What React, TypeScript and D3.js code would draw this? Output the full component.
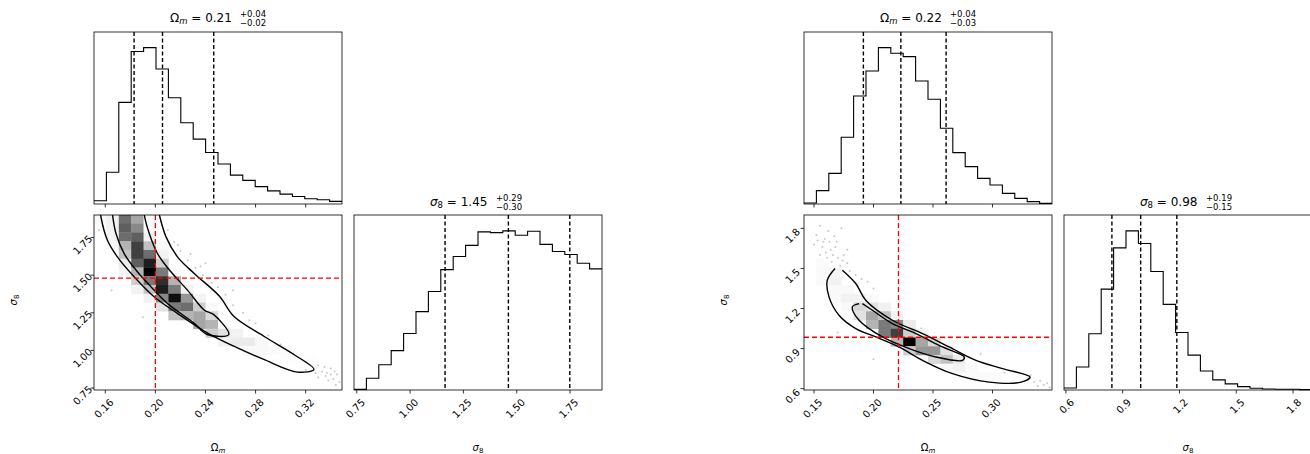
import * as d3 from "d3"

// ---- left corner plot ----
const omLeftDomain: [number, number] = [0.151, 0.349]
const s8LeftDomain: [number, number] = [0.737, 1.9]
const omLeftTicks = [0.16, 0.2, 0.24, 0.28, 0.32]
const s8LeftTicks = [0.75, 1.0, 1.25, 1.5, 1.75]
const omLeftHist = [10, 97, 310, 465, 477, 412, 324, 248, 198, 157, 122, 88, 72, 53, 40, 30, 23, 16, 13, 8]
const s8LeftHist = [2, 35, 75, 117, 168, 233, 293, 358, 397, 430, 470, 468, 473, 460, 472, 433, 412, 403, 377, 360]
const omLeftQuant = [0.183, 0.2057, 0.2466]
const s8LeftQuant = [1.164, 1.461, 1.749]
const leftTruth = [0.2, 1.48]
// [col, row, density]
const leftCells: [number, number, number][] = [
  [0, 19, 0.05], [1, 19, 0.1], [2, 19, 0.65], [3, 19, 0.45], [4, 19, 0.05],
  [1, 18, 0.1], [2, 18, 0.7], [3, 18, 0.55], [4, 18, 0.05],
  [1, 17, 0.1], [2, 17, 0.65], [3, 17, 0.7], [4, 17, 0.1],
  [1, 16, 0.05], [2, 16, 0.4], [3, 16, 0.8], [4, 16, 0.35], [5, 16, 0.05],
  [2, 15, 0.35], [3, 15, 0.8], [4, 15, 0.65], [5, 15, 0.1],
  [2, 14, 0.15], [3, 14, 0.7], [4, 14, 0.9], [5, 14, 0.3],
  [2, 13, 0.1], [3, 13, 0.4], [4, 13, 1.0], [5, 13, 0.6], [6, 13, 0.05],
  [3, 12, 0.3], [4, 12, 0.6], [5, 12, 0.85], [6, 12, 0.4],
  [3, 11, 0.1], [4, 11, 0.35], [5, 11, 0.9], [6, 11, 0.6], [7, 11, 0.1],
  [4, 10, 0.1], [5, 10, 0.55], [6, 10, 0.95], [7, 10, 0.5], [8, 10, 0.1],
  [5, 9, 0.2], [6, 9, 0.6], [7, 9, 0.65], [8, 9, 0.3], [9, 9, 0.05],
  [6, 8, 0.35], [7, 8, 0.4], [8, 8, 0.45], [9, 8, 0.25],
  [8, 7, 0.45], [9, 7, 0.4], [10, 7, 0.05],
  [9, 6, 0.3], [10, 6, 0.2], [11, 6, 0.1],
  [10, 5, 0.1], [11, 5, 0.15], [12, 5, 0.15], [13, 5, 0.05],
  [12, 4, 0.05], [13, 4, 0.05], [14, 4, 0.03], [15, 4, 0.03],
  [15, 3, 0.02], [16, 3, 0.02], [17, 3, 0.02],
]
const leftOuter: [number, number][] = [
  [0.156, 1.93], [0.1566, 1.885], [0.1618, 1.73], [0.1698, 1.62], [0.1832, 1.488], [0.1992, 1.355],
  [0.2178, 1.245], [0.2414, 1.117], [0.2626, 1.028], [0.2866, 0.94], [0.3134, 0.856], [0.3266, 0.874],
  [0.3106, 0.973], [0.2866, 1.094], [0.2626, 1.227], [0.2512, 1.36], [0.2312, 1.51],
  [0.2178, 1.62], [0.2086, 1.753], [0.2032, 1.9], [0.2025, 1.93],
]
const leftInner: [number, number][] = [
  [0.1655, 1.93], [0.1658, 1.9], [0.1686, 1.775], [0.1752, 1.642], [0.1858, 1.521], [0.1966, 1.422],
  [0.2098, 1.311], [0.2306, 1.183], [0.2414, 1.106], [0.2586, 1.106], [0.2466, 1.238], [0.2392, 1.267],
  [0.2258, 1.399], [0.2126, 1.521], [0.2018, 1.642], [0.1952, 1.775], [0.1912, 1.9], [0.191, 1.93],
]
const leftPoints: [number, number][] = [
  [0.153, 1.86], [0.155, 1.8], [0.152, 1.88], [0.158, 1.83], [0.215, 1.72], [0.22, 1.66], [0.226, 1.6],
  [0.232, 1.55], [0.238, 1.5], [0.245, 1.45], [0.25, 1.42], [0.256, 1.37], [0.262, 1.3], [0.27, 1.25],
  [0.28, 1.18], [0.29, 1.1], [0.3, 1.04], [0.31, 0.98], [0.318, 0.95], [0.325, 0.92], [0.33, 0.9],
  [0.333, 0.86], [0.336, 0.83], [0.34, 0.88], [0.342, 0.81], [0.345, 0.84], [0.347, 0.79], [0.338, 0.8],
  [0.33, 0.82], [0.344, 0.77], [0.335, 0.89], [0.328, 0.85], [0.32, 0.87], [0.21, 1.8], [0.24, 1.58],
  [0.262, 1.4], [0.275, 1.2], [0.3, 0.92], [0.31, 0.86], [0.165, 1.4], [0.19, 1.22], [0.2, 1.17],
  [0.218, 1.7], [0.228, 1.64], [0.236, 1.56], [0.248, 1.48], [0.34, 0.84], [0.343, 0.86], [0.337, 0.85],
]

// ---- right corner plot ----
const omRightDomain: [number, number] = [0.1416, 0.35]
const s8RightDomain: [number, number] = [0.59, 1.9]
const omRightTicks = [0.15, 0.2, 0.25, 0.3]
const s8RightTicks = [0.6, 0.9, 1.2, 1.5, 1.8]
const omRightHist = [3, 40, 92, 200, 324, 399, 469, 452, 442, 369, 314, 227, 154, 112, 77, 57, 32, 17, 7, 2]
const s8RightHist = [6, 68, 166, 298, 420, 470, 433, 350, 253, 170, 103, 56, 30, 18, 10, 5, 3, 2, 2, 1]
const omRightQuant = [0.1915, 0.223, 0.261]
const s8RightQuant = [0.843, 0.995, 1.186]
const rightTruth = [0.221, 0.985]
const rightCells: [number, number, number][] = [
  [1, 14, 0.03], [1, 13, 0.05], [2, 13, 0.08], [1, 12, 0.05], [2, 12, 0.1],
  [2, 11, 0.05], [3, 11, 0.05],
  [2, 10, 0.05], [3, 10, 0.1], [4, 10, 0.1], [5, 10, 0.03],
  [3, 9, 0.05], [4, 9, 0.25], [5, 9, 0.2], [6, 9, 0.1],
  [4, 8, 0.2], [5, 8, 0.45], [6, 8, 0.35], [7, 8, 0.1],
  [5, 7, 0.4], [6, 7, 0.6], [7, 7, 0.55], [8, 7, 0.15],
  [6, 6, 0.6], [7, 6, 0.8], [8, 6, 0.3], [9, 6, 0.1],
  [7, 5, 0.4], [8, 5, 1.0], [9, 5, 0.45], [10, 5, 0.25],
  [8, 4, 0.3], [9, 4, 0.5], [10, 4, 0.5], [11, 4, 0.2],
  [10, 3, 0.25], [11, 3, 0.35], [12, 3, 0.15],
  [11, 2, 0.05], [12, 2, 0.1], [13, 2, 0.05],
  [13, 1, 0.04], [14, 1, 0.04], [15, 1, 0.03],
]
const rightOuter: [number, number][] = [
  [0.1677, 1.5], [0.1612, 1.412], [0.1626, 1.287], [0.171, 1.15], [0.1851, 1.05], [0.2019, 0.987],
  [0.2215, 0.912], [0.2412, 0.812], [0.2664, 0.712], [0.2973, 0.649], [0.324, 0.649], [0.3316, 0.687],
  [0.3085, 0.75], [0.2861, 0.812], [0.2636, 0.912], [0.2412, 1.012], [0.2159, 1.112], [0.1935, 1.262],
  [0.1851, 1.387], [0.1738, 1.487],
]
const rightInner: [number, number][] = [
  [0.1879, 1.237], [0.1822, 1.212], [0.1879, 1.112], [0.2075, 0.987], [0.23, 0.9], [0.2524, 0.837],
  [0.2748, 0.812], [0.2763, 0.837], [0.258, 0.912], [0.2356, 1.012], [0.2159, 1.087], [0.1991, 1.187],
  [0.1907, 1.237],
]
const rightPoints: [number, number][] = [
  [0.152, 1.75], [0.155, 1.82], [0.158, 1.7], [0.16, 1.62], [0.162, 1.78], [0.165, 1.55], [0.168, 1.66],
  [0.17, 1.58], [0.155, 1.6], [0.157, 1.66], [0.163, 1.7], [0.172, 1.52], [0.175, 1.6], [0.178, 1.54],
  [0.18, 1.48], [0.185, 1.45], [0.19, 1.42], [0.195, 1.4], [0.2, 1.35], [0.15, 1.68], [0.16, 1.5],
  [0.167, 1.74], [0.173, 1.8], [0.178, 1.64], [0.24, 1.05], [0.26, 0.98], [0.29, 0.86],
  [0.33, 0.68], [0.335, 0.65], [0.34, 0.66], [0.343, 0.63], [0.346, 0.64], [0.338, 0.62], [0.348, 0.61],
  [0.332, 0.7], [0.31, 0.72], [0.2, 0.82], [0.17, 1.02], [0.159, 1.72], [0.164, 1.64], [0.169, 1.7],
  [0.161, 1.58], [0.174, 1.56], [0.153, 1.71], [0.166, 1.6],
]

const FONT = "DejaVu Sans, sans-serif"
const W = 1310
const H = 454
const RED = "#ff0000"

interface Fig {
  x0: number
  omDomain: [number, number]
  s8Domain: [number, number]
  omTicks: number[]
  s8Ticks: number[]
  omFmt: string
  s8Fmt: string
  omHist: number[]
  s8Hist: number[]
  omQuant: number[]
  s8Quant: number[]
  truth: number[]
  cells: [number, number, number][]
  outer: [number, number][]
  inner: [number, number][]
  points: [number, number][]
  omTitle: [string, string, string]
  s8Title: [string, string, string]
  id: string
}

const figs: Fig[] = [
  {
    x0: 94, omDomain: omLeftDomain, s8Domain: s8LeftDomain, omTicks: omLeftTicks, s8Ticks: s8LeftTicks,
    omFmt: ".2f", s8Fmt: ".2f", omHist: omLeftHist, s8Hist: s8LeftHist, omQuant: omLeftQuant,
    s8Quant: s8LeftQuant, truth: leftTruth, cells: leftCells, outer: leftOuter, inner: leftInner,
    points: leftPoints, omTitle: ["0.21", "+0.04", "−0.02"], s8Title: ["1.45", "+0.29", "−0.30"], id: "l",
  },
  {
    x0: 804, omDomain: omRightDomain, s8Domain: s8RightDomain, omTicks: omRightTicks, s8Ticks: s8RightTicks,
    omFmt: ".2f", s8Fmt: ".1f", omHist: omRightHist, s8Hist: s8RightHist, omQuant: omRightQuant,
    s8Quant: s8RightQuant, truth: rightTruth, cells: rightCells, outer: rightOuter, inner: rightInner,
    points: rightPoints, omTitle: ["0.22", "+0.04", "−0.03"], s8Title: ["0.98", "+0.19", "−0.15"], id: "r",
  },
]

const PW = 248
const TOP = [32, 204]
const BOT = [215, 390]

function histPath(vals: number[], dom: [number, number], x: d3.ScaleLinear<number, number>, y: d3.ScaleLinear<number, number>) {
  const step = (dom[1] - dom[0]) / vals.length
  const pts: [number, number][] = vals.map((v, i) => [dom[0] + i * step, v])
  pts.push([dom[1], vals[vals.length - 1]])
  return d3.line<[number, number]>().x((d) => x(d[0])).y((d) => y(d[1])).curve(d3.curveStepAfter)(pts) || ""
}

function Title({ cx, y, sym, t }: { cx: number; y: number; sym: "om" | "s8"; t: [string, string, string] }) {
  return (
    <g transform={`translate(${cx - 48},${y})`} fontFamily={FONT}>
      <text x={0} y={0} fontSize={12}>
        {sym === "om" ? (
          <>Ω<tspan fontSize={8.5} dy={2} fontStyle="italic">m</tspan><tspan dy={-2}> = {t[0]}</tspan></>
        ) : (
          <><tspan fontStyle="italic">σ</tspan><tspan fontSize={8.5} dy={2}>8</tspan><tspan dy={-2}> = {t[0]}</tspan></>
        )}
      </text>
      <text x={sym === "om" ? 70 : 66} y={-5} fontSize={8.5}>{t[1]}</text>
      <text x={sym === "om" ? 70 : 66} y={4} fontSize={8.5}>{t[2]}</text>
    </g>
  )
}

function XTicks({ ticks, x, y, fmt, labels }: { ticks: number[]; x: d3.ScaleLinear<number, number>; y: number; fmt: string; labels: boolean }) {
  const f = d3.format(fmt)
  return (
    <g>
      {ticks.map((t) => (
        <g key={t} transform={`translate(${x(t)},${y})`}>
          <line y2={3.5} stroke="#000" strokeWidth={0.8} />
          {labels && (
            <text transform="translate(4,8) rotate(-45)" textAnchor="end" dy="0.7em" fontSize={10} fontFamily={FONT}>
              {f(t)}
            </text>
          )}
        </g>
      ))}
    </g>
  )
}

function Corner({ f }: { f: Fig }) {
  const dx = f.x0 + 260
  const xOm = d3.scaleLinear().domain(f.omDomain).range([f.x0, f.x0 + PW])
  const yS8 = d3.scaleLinear().domain(f.s8Domain).range([BOT[1], BOT[0]])
  const xS8 = d3.scaleLinear().domain(f.s8Domain).range([dx, dx + PW])
  const yTop = d3.scaleLinear().domain([0, (d3.max(f.omHist) as number) * 1.1]).range([TOP[1], TOP[0]])
  const yDiag = d3.scaleLinear().domain([0, (d3.max(f.s8Hist) as number) * 1.1]).range([BOT[1], BOT[0]])
  const cw = (f.omDomain[1] - f.omDomain[0]) / 20
  const ch = (f.s8Domain[1] - f.s8Domain[0]) / 20
  const gray = (v: number) => d3.interpolateGreys(v)
  const contour = d3.line<[number, number]>().x((d) => xOm(d[0])).y((d) => yS8(d[1])).curve(d3.curveCatmullRom)
  const clip = `clip-${f.id}`
  const f8 = d3.format(f.s8Fmt)
  return (
    <g>
      <defs>
        <clipPath id={clip}>
          <rect x={f.x0} y={BOT[0]} width={PW} height={BOT[1] - BOT[0]} />
        </clipPath>
      </defs>
      {/* top histogram */}
      <path d={histPath(f.omHist, f.omDomain, xOm, yTop)} fill="none" stroke="#000" strokeWidth={1.1} />
      {f.omQuant.map((q) => (
        <line key={q} x1={xOm(q)} x2={xOm(q)} y1={TOP[0]} y2={TOP[1]} stroke="#000" strokeWidth={1.4} strokeDasharray="4,2.5" />
      ))}
      <rect x={f.x0} y={TOP[0]} width={PW} height={TOP[1] - TOP[0]} fill="none" stroke="#000" strokeWidth={0.8} />
      <XTicks ticks={f.omTicks} x={xOm} y={TOP[1]} fmt={f.omFmt} labels={false} />
      <Title cx={f.x0 + PW / 2} y={22} sym="om" t={f.omTitle} />

      {/* 2D panel */}
      <g clipPath={`url(#${clip})`}>
        {f.points.map((p, i) => (
          <circle key={i} cx={xOm(p[0])} cy={yS8(p[1])} r={1} fill="#999" opacity={0.55} />
        ))}
        {f.cells.map(([c, r, v], i) => (
          <rect key={i} x={xOm(f.omDomain[0] + c * cw)} y={yS8(f.s8Domain[0] + (r + 1) * ch)}
            width={xOm(f.omDomain[0] + cw) - xOm(f.omDomain[0]) + 0.3}
            height={yS8(f.s8Domain[0]) - yS8(f.s8Domain[0] + ch) + 0.3} fill={gray(v)} />
        ))}
        <path d={contour(f.outer) || ""} fill="none" stroke="#000" strokeWidth={1.4} />
        <path d={contour(f.inner) || ""} fill="none" stroke="#000" strokeWidth={1.4} />
        <line x1={xOm(f.truth[0])} x2={xOm(f.truth[0])} y1={BOT[0]} y2={BOT[1]} stroke={RED} strokeWidth={1.3} strokeDasharray="5,3" />
        <line x1={f.x0} x2={f.x0 + PW} y1={yS8(f.truth[1])} y2={yS8(f.truth[1])} stroke={RED} strokeWidth={1.3} strokeDasharray="5,3" />
      </g>
      <rect x={f.x0} y={BOT[0]} width={PW} height={BOT[1] - BOT[0]} fill="none" stroke="#000" strokeWidth={0.8} />
      <XTicks ticks={f.omTicks} x={xOm} y={BOT[1]} fmt={f.omFmt} labels={true} />
      {f.s8Ticks.map((t) => (
        <g key={t} transform={`translate(${f.x0},${yS8(t)})`}>
          <line x2={-3.5} stroke="#000" strokeWidth={0.8} />
          <text transform="translate(-5,1) rotate(-45)" textAnchor="middle" dy="0.35em" dx="-0.9em" fontSize={10} fontFamily={FONT}>
            {f8(t)}
          </text>
        </g>
      ))}
      <text x={(f.x0 + PW / 2)} y={451} textAnchor="middle" fontSize={10} fontFamily={FONT}>
        Ω<tspan fontSize={7} dy={2} fontStyle="italic">m</tspan>
      </text>
      <text transform={`translate(${f.x0 - 77},300) rotate(-90)`} textAnchor="middle" fontSize={10} fontFamily={FONT}>
        <tspan fontStyle="italic">σ</tspan><tspan fontSize={7} dy={2}>8</tspan>
      </text>

      {/* diagonal sigma8 */}
      <path d={histPath(f.s8Hist, f.s8Domain, xS8, yDiag)} fill="none" stroke="#000" strokeWidth={1.1} />
      {f.s8Quant.map((q) => (
        <line key={q} x1={xS8(q)} x2={xS8(q)} y1={BOT[0]} y2={BOT[1]} stroke="#000" strokeWidth={1.4} strokeDasharray="4,2.5" />
      ))}
      <rect x={dx} y={BOT[0]} width={PW} height={BOT[1] - BOT[0]} fill="none" stroke="#000" strokeWidth={0.8} />
      <XTicks ticks={f.s8Ticks} x={xS8} y={BOT[1]} fmt={f.s8Fmt} labels={true} />
      <Title cx={dx + PW / 2} y={206} sym="s8" t={f.s8Title} />
      <text x={dx + PW / 2} y={451} textAnchor="middle" fontSize={10} fontFamily={FONT}>
        <tspan fontStyle="italic">σ</tspan><tspan fontSize={7} dy={2}>8</tspan>
      </text>
    </g>
  )
}

export default function App() {
  return (
    <svg width={W} height={H} style={{ position: "absolute", left: 0, top: 0, background: "#fff" }}>
      <rect width={W} height={H} fill="#fff" />
      {figs.map((f) => (
        <Corner key={f.id} f={f} />
      ))}
    </svg>
  )
}
